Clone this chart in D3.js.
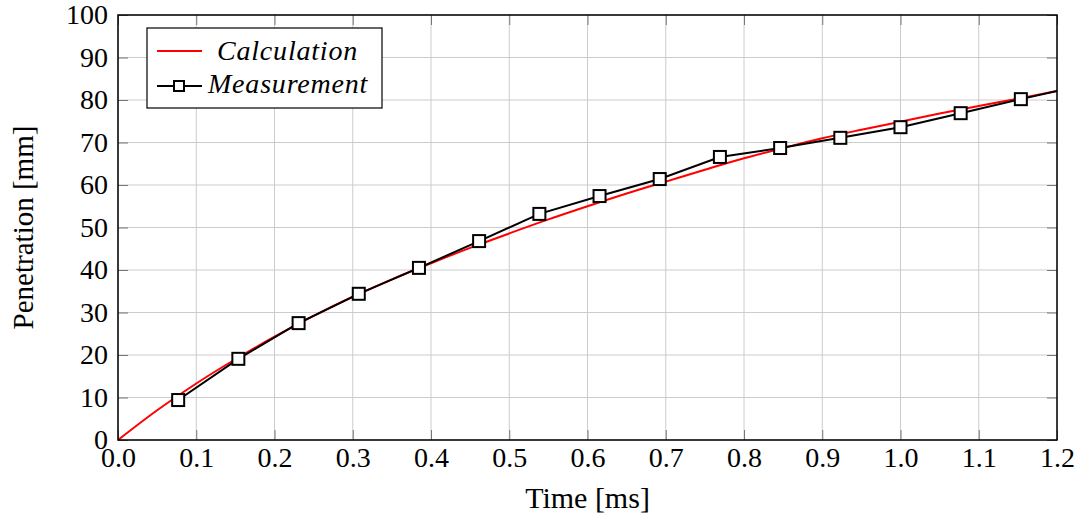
<!DOCTYPE html>
<meta charset="utf-8">
<script src="https://cdn.jsdelivr.net/npm/d3@7"></script>
<style>
  body { margin: 0; background: #fff; }
  text { font-family: "Liberation Serif", "Times New Roman", serif; }
</style>
<div id="chart"></div>
<script>

// data
var calcTime = [0, 0.05, 0.1, 0.15, 0.2, 0.25, 0.3, 0.35, 0.4, 0.45, 0.5, 0.55, 0.6,
                0.65, 0.7, 0.75, 0.8, 0.85, 0.9, 0.95, 1.0, 1.05, 1.1, 1.15, 1.2];
var calcPen  = [0, 7.0, 13.3, 19.0, 24.3, 29.2, 33.7, 37.8, 41.6, 45.2, 48.6, 51.9, 55.0,
                58.0, 60.8, 63.6, 66.3, 68.7, 71.0, 73.0, 74.9, 76.8, 78.6, 80.3, 82.1];

var measTime = [0.0769, 0.1538, 0.2308, 0.3077, 0.3846, 0.4615, 0.5385, 0.6154, 0.6923,
                0.7692, 0.8462, 0.9231, 1.0, 1.0769, 1.1538, 1.2308];
var measPen  = [9.4, 19.1, 27.5, 34.4, 40.5, 46.8, 53.2, 57.4, 61.4,
                66.6, 68.7, 71.1, 73.6, 76.9, 80.2, 83.4];

var xTicks = [0, 0.1, 0.2, 0.3, 0.4, 0.5, 0.6, 0.7, 0.8, 0.9, 1.0, 1.1, 1.2];
var yTicks = [0, 10, 20, 30, 40, 50, 60, 70, 80, 90, 100];

var W = 1090, H = 521;
var margin = {top: 15, right: 33, bottom: 81, left: 118};
var width = W - margin.left - margin.right,
    height = H - margin.top - margin.bottom;

var svg = d3.select("#chart").append("svg")
    .attr("width", W).attr("height", H);

var g = svg.append("g")
    .attr("transform", "translate(" + margin.left + "," + margin.top + ")");

var x = d3.scaleLinear().domain([0, 1.2]).range([0, width]);
var y = d3.scaleLinear().domain([0, 100]).range([height, 0]);

// grid
g.append("g").selectAll("line").data(xTicks).enter().append("line")
    .attr("x1", d => x(d)).attr("x2", d => x(d))
    .attr("y1", 0).attr("y2", height)
    .style("stroke", "#cccccc").style("stroke-width", 1);
g.append("g").selectAll("line").data(yTicks).enter().append("line")
    .attr("y1", d => y(d)).attr("y2", d => y(d))
    .attr("x1", 0).attr("x2", width)
    .style("stroke", "#cccccc").style("stroke-width", 1);

// axes with inward ticks
var tk = 10;
g.append("g").attr("transform", "translate(0," + height + ")")
    .call(d3.axisBottom(x).tickValues(xTicks).tickSize(-tk).tickPadding(7)
      .tickFormat(d3.format(".1f")));
g.append("g").call(d3.axisTop(x).tickValues(xTicks).tickSize(-tk).tickFormat(""));
g.append("g")
    .call(d3.axisLeft(y).tickValues(yTicks).tickSize(-tk).tickPadding(10));
g.append("g").attr("transform", "translate(" + width + ",0)")
    .call(d3.axisRight(y).tickValues(yTicks).tickSize(-tk).tickFormat(""));

g.selectAll(".domain").remove();
g.selectAll(".tick line").style("stroke", "#777").style("stroke-width", 1);
g.selectAll(".tick text")
    .style("font-family", "'Liberation Serif', serif")
    .style("font-size", "28px").style("fill", "#000");

// clip
svg.append("clipPath").attr("id", "clip").append("rect")
    .attr("width", width).attr("height", height);

var plot = g.append("g").attr("clip-path", "url(#clip)");

var calc = d3.zip(calcTime, calcPen);
var meas = d3.zip(measTime, measPen);

plot.append("path").datum(calc)
    .attr("d", d3.line().curve(d3.curveMonotoneX).x(d => x(d[0])).y(d => y(d[1])))
    .style("fill", "none").style("stroke", "#ff0000").style("stroke-width", 2);

plot.append("path").datum(meas)
    .attr("d", d3.line().x(d => x(d[0])).y(d => y(d[1])))
    .style("fill", "none").style("stroke", "#000").style("stroke-width", 2);

var ms = 12;
plot.selectAll(".mark").data(meas).enter().append("rect")
    .attr("class", "mark")
    .attr("x", d => x(d[0]) - ms / 2).attr("y", d => y(d[1]) - ms / 2)
    .attr("width", ms).attr("height", ms)
    .style("fill", "#fff").style("stroke", "#000").style("stroke-width", 2);

// frame
g.append("rect").attr("width", width).attr("height", height)
    .style("fill", "none").style("stroke", "#000").style("stroke-width", 1.5);

// legend
var lg = svg.append("g");
lg.append("rect").attr("x", 147).attr("y", 28).attr("width", 235).attr("height", 80)
    .style("fill", "#fff").style("stroke", "#000").style("stroke-width", 1.2);
lg.append("line").attr("x1", 157).attr("x2", 202).attr("y1", 51).attr("y2", 51)
    .style("stroke", "#ff0000").style("stroke-width", 2);
lg.append("line").attr("x1", 157).attr("x2", 202).attr("y1", 86).attr("y2", 86)
    .style("stroke", "#000").style("stroke-width", 2);
lg.append("rect").attr("x", 179 - 5).attr("y", 86 - 5).attr("width", 10).attr("height", 10)
    .style("fill", "#fff").style("stroke", "#000").style("stroke-width", 2);
lg.append("text").attr("x", 217).attr("y", 60).text("Calculation")
    .style("font-style", "italic").style("font-size", "28px").style("letter-spacing", "0.8px");
lg.append("text").attr("x", 208).attr("y", 93).text("Measurement")
    .style("font-style", "italic").style("font-size", "28px").style("letter-spacing", "0.8px");

// axis labels
svg.append("text").attr("x", margin.left + width / 2).attr("y", 508)
    .attr("text-anchor", "middle").style("font-size", "30px").text("Time [ms]");
svg.append("text")
    .attr("transform", "translate(33," + (margin.top + height / 2) + ") rotate(-90)")
    .attr("text-anchor", "middle").style("font-size", "29px").text("Penetration [mm]");

</script>
